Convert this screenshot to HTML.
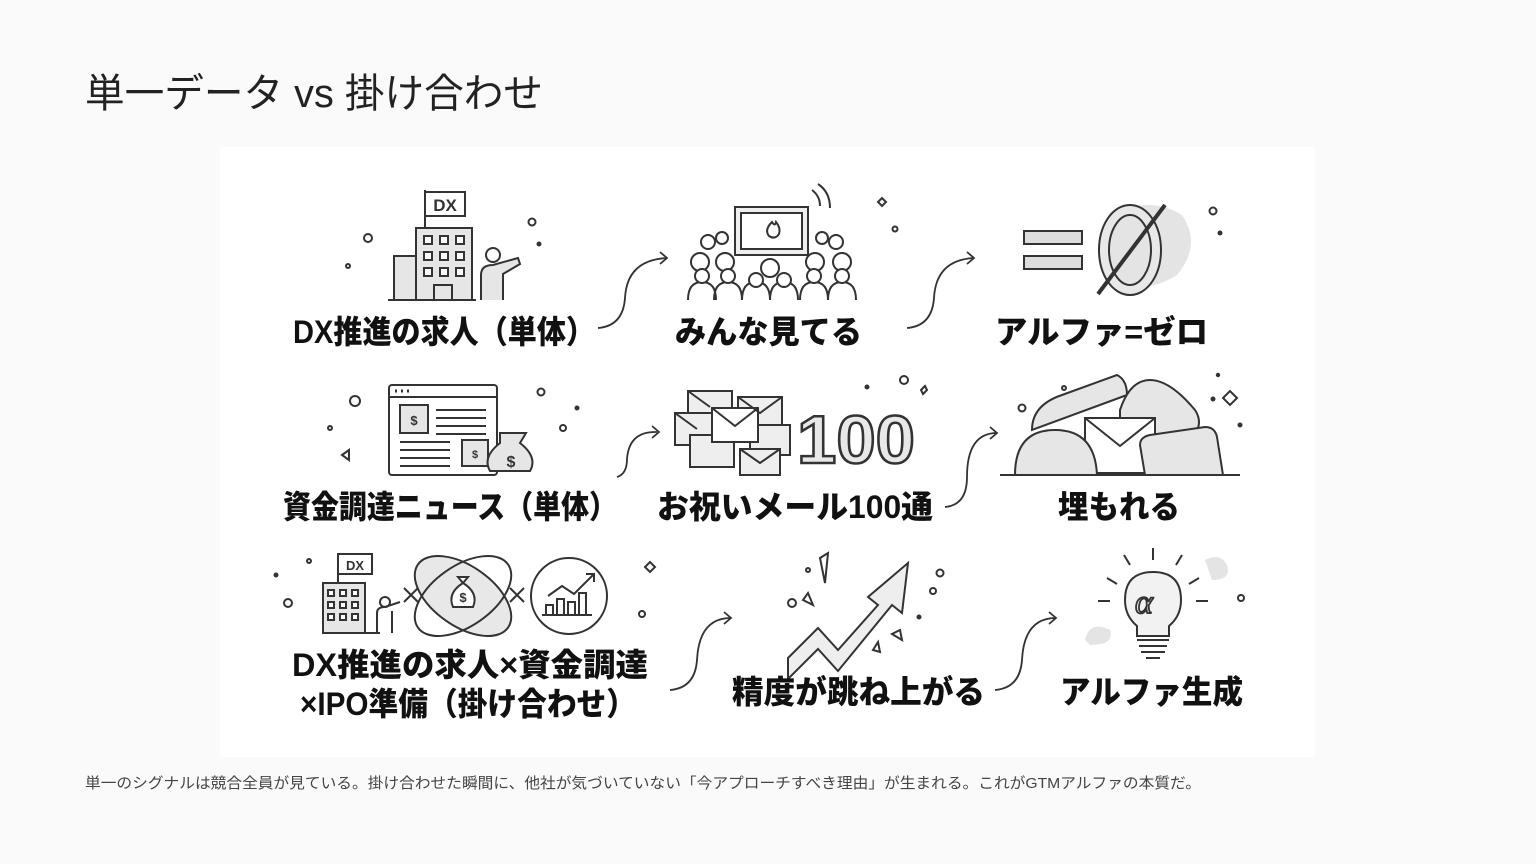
<!DOCTYPE html>
<html><head><meta charset="utf-8"><style>
html,body{margin:0;padding:0;background:#fafafa;}
body{width:1536px;height:864px;position:relative;overflow:hidden;font-family:"Liberation Sans","Noto Sans CJK JP",sans-serif;}
</style></head><body>
<svg width="1536" height="864" viewBox="0 0 1536 864" xmlns="http://www.w3.org/2000/svg" style="position:absolute;left:0;top:0">
<text x="85" y="107" font-family="Liberation Sans,Noto Sans CJK JP,sans-serif" font-size="40" fill="#222" textLength="458" lengthAdjust="spacingAndGlyphs">単一データ vs 掛け合わせ</text>
<rect x="220" y="147" width="1095" height="610" fill="#fff"/>
<g fill="none" stroke="#333" stroke-width="2">
 <rect x="394" y="256" width="22" height="44" fill="#e6e6e6"/>
 <rect x="416" y="228" width="56" height="72" fill="#e6e6e6"/>
 <rect x="425" y="192" width="40" height="24" fill="#fff"/><line x1="425" y1="190" x2="425" y2="228"/>
 <g fill="#fff"><rect x="424" y="236" width="8" height="8"/><rect x="440" y="236" width="8" height="8"/><rect x="456" y="236" width="8" height="8"/><rect x="424" y="252" width="8" height="8"/><rect x="440" y="252" width="8" height="8"/><rect x="456" y="252" width="8" height="8"/><rect x="424" y="268" width="8" height="8"/><rect x="440" y="268" width="8" height="8"/><rect x="456" y="268" width="8" height="8"/></g>
 <rect x="434" y="285" width="18" height="15"/>
 <line x1="388" y1="300" x2="476" y2="300"/>
 <circle cx="493" cy="255" r="7"/><path d="M481 300 V275 Q481 265 493 265 L518 258 L520 264 L503 274 V300" fill="#e6e6e6"/>
 <circle cx="368" cy="238" r="4"/><circle cx="532" cy="222" r="3.5"/><circle cx="348" cy="266" r="2"/><circle cx="539" cy="244" r="1.5" fill="#333"/>
 <rect x="735" y="207" width="73" height="48" fill="#eee"/><rect x="741" y="213" width="61" height="36" fill="#fff"/>
 <path d="M772 222 q-8 8 -3 14 q6 4 10 -2 q2 -6 -3 -12 q-1 5 -4 0z"/>
 <path d="M812 190 q8 6 8 16 M818 184 q12 8 12 24"/>
 <g fill="#fff">
 <circle cx="708" cy="242" r="7"/><circle cx="722" cy="238" r="6"/><circle cx="822" cy="238" r="6"/><circle cx="836" cy="242" r="7"/>
 <circle cx="700" cy="262" r="9"/><circle cx="725" cy="262" r="9"/><circle cx="770" cy="268" r="9"/><circle cx="815" cy="262" r="9"/><circle cx="842" cy="262" r="9"/>
 <path d="M688 300 q0-18 14-18 q14 0 14 18 M714 300 q0-18 14-18 q14 0 14 18 M742 300 q0-18 14-18 q14 0 14 18 M770 300 q0-18 14-18 q14 0 14 18 M800 300 q0-18 14-18 q14 0 14 18 M828 300 q0-18 14-18 q14 0 14 18"/>
 <circle cx="702" cy="276" r="7"/><circle cx="728" cy="276" r="7"/><circle cx="756" cy="280" r="7"/><circle cx="784" cy="280" r="7"/><circle cx="814" cy="276" r="7"/><circle cx="842" cy="276" r="7"/>
 </g>
 <path d="M878 202 l4 -4 l4 4 l-4 4z"/><circle cx="895" cy="229" r="2.5"/>
 <path d="M1110 215 q40 -20 72 0 q20 30 -5 60 q-40 25 -70 -5z" fill="#e4e4e4" stroke="none"/>
 <rect x="1024" y="231" width="58" height="13" fill="#ddd"/><rect x="1024" y="256" width="58" height="13" fill="#ddd"/>
 <ellipse cx="1130" cy="250" rx="26" ry="40" stroke-width="12" stroke="#333"/>
 <ellipse cx="1130" cy="250" rx="26" ry="40" stroke-width="8" stroke="#e8e8e8"/>
 <line x1="1098" y1="294" x2="1165" y2="205" stroke-width="4"/>
 <circle cx="1213" cy="211" r="3.5"/><circle cx="1220" cy="233" r="1.5" fill="#333"/>
 <rect x="389" y="385" width="108" height="90" rx="3" fill="#fff"/><line x1="389" y1="397" x2="497" y2="397"/>
 <path d="M395 391 h2 M401 391 h2 M407 391 h2" stroke-width="3"/>
 <rect x="400" y="405" width="28" height="28" fill="#e6e6e6"/>
 <path d="M436 410 h50 M436 418 h50 M436 426 h50 M400 442 h50 M400 450 h50 M400 458 h50 M400 466 h50 M436 434 h50"/>
 <rect x="462" y="440" width="26" height="26" fill="#e6e6e6"/>
 <path d="M500 443 q-18 14 -10 28 h40 q8 -14 -10 -28 l6 -10 h-26z" fill="#e6e6e6"/>
 <circle cx="355" cy="401" r="5"/><circle cx="541" cy="392" r="3.5"/><circle cx="330" cy="428" r="2"/><circle cx="563" cy="428" r="3"/><path d="M342 455 l7 -5 v10z"/><circle cx="577" cy="408" r="1.5" fill="#333"/>
 <g fill="#eee">
 <rect x="688" y="391" width="44" height="32"/><rect x="675" y="413" width="44" height="32"/><rect x="738" y="397" width="44" height="32"/><rect x="690" y="435" width="44" height="32"/><rect x="750" y="425" width="40" height="30"/><rect x="740" y="449" width="40" height="26"/><rect x="712" y="408" width="46" height="34" fill="#fff"/>
 </g>
 <path d="M712 408 l23 18 l23 -18 M688 391 l22 16 M675 413 l22 16 M738 397 l22 16 l22-16 M740 449 l20 14 l20 -14"/>
 <text x="797" y="463" font-family="Liberation Sans,sans-serif" font-weight="bold" font-size="68" fill="#e8e8e8" stroke="#333" stroke-width="2.5" textLength="118" lengthAdjust="spacingAndGlyphs">100</text>
 <circle cx="904" cy="380" r="4"/><circle cx="867" cy="387" r="1.5" fill="#333"/><path d="M921 390 l4 -4 l2 4 l-4 4z"/>
 <path d="M1032 430 q0 -25 30 -35 l55 -20 q10 5 10 20 z" fill="#e6e6e6"/>
 <path d="M1120 410 q10 -30 30 -30 q20 0 45 30 q10 15 -5 30 h-70z" fill="#e6e6e6"/>
 <rect x="1085" y="418" width="70" height="55" fill="#fff"/><path d="M1085 418 l35 28 l35 -28"/>
 <path d="M1015 475 q0 -45 40 -45 q40 0 42 45z" fill="#e6e6e6"/>
 <path d="M1145 475 l-5 -30 q0 -8 10 -10 l55 -8 q10 0 12 10 l6 38z" fill="#e6e6e6"/>
 <line x1="1000" y1="475" x2="1240" y2="475"/>
 <circle cx="1022" cy="408" r="3.5"/><circle cx="1064" cy="388" r="2"/><path d="M1223 398 l7 -7 l7 7 l-7 7z"/><circle cx="1213" cy="399" r="1.5" fill="#333"/><circle cx="1240" cy="425" r="1.5" fill="#333"/><circle cx="1218" cy="375" r="1.2" fill="#333"/>
 <rect x="323" y="583" width="42" height="50" fill="#e6e6e6"/><rect x="338" y="554" width="34" height="20" fill="#fff"/><line x1="338" y1="554" x2="338" y2="583"/>
 <g fill="#fff"><rect x="328" y="590" width="6" height="6"/><rect x="340" y="590" width="6" height="6"/><rect x="352" y="590" width="6" height="6"/><rect x="328" y="602" width="6" height="6"/><rect x="340" y="602" width="6" height="6"/><rect x="352" y="602" width="6" height="6"/><rect x="328" y="614" width="6" height="6"/><rect x="340" y="614" width="6" height="6"/><rect x="352" y="614" width="6" height="6"/></g>
 <line x1="322" y1="633" x2="380" y2="633"/>
 <circle cx="385" cy="602" r="5"/><path d="M377 633 v-20 q0 -6 8 -6 l15 -5 M392 633 v-22"/>
 <path d="M404 588 l14 14 M418 588 l-14 14 M510 588 l14 14 M524 588 l-14 14"/>
 <ellipse cx="463" cy="596" rx="55" ry="30" transform="rotate(35 463 596)" fill="#e8e8e8"/>
 <ellipse cx="463" cy="596" rx="55" ry="30" transform="rotate(-35 463 596)"/>
 <path d="M463 583 q-16 10 -10 24 h20 q6 -14 -10 -24 l5 -6 h-10z" fill="#fff"/>
 <circle cx="569" cy="596" r="38"/>
 <path d="M546 615 v-10 h7 v10 M557 615 v-16 h7 v16 M568 615 v-13 h7 v13 M579 615 v-22 h7 v22 M542 615 h50 M548 596 l14 -10 l12 8 l20 -20 M586 574 h8 v8"/>
 <circle cx="288" cy="603" r="4"/><circle cx="309" cy="561" r="2"/><circle cx="276" cy="575" r="1.5" fill="#333"/><path d="M645 567 l5 -5 l5 5 l-5 5z"/><circle cx="642" cy="614" r="3"/>
 <path d="M788 658 l30 -30 l20 22 l40 -45 l-10 -8 l40 -34 l-6 50 l-10 -8 l-54 66 l-20 -22 l-30 30z" fill="#eee"/>
 <path d="M820 558 l8 -5 l-3 30z M803 600 l10 5 l-5 -12z M892 634 l8 -4 l2 10z M873 650 l5 -8 l2 10z"/>
 <circle cx="792" cy="603" r="4"/><circle cx="808" cy="570" r="2"/><circle cx="940" cy="573" r="3.5"/><circle cx="933" cy="591" r="3"/><circle cx="919" cy="617" r="1.5" fill="#333"/>
 <path d="M1205 560 q15 -8 22 5 q5 15 -15 15 z M1085 640 q5 -20 25 -10 q5 15 -20 15z" fill="#e4e4e4" stroke="none"/>
 <path d="M1153 572 q-28 0 -28 28 q0 16 12 26 v10 h32 v-10 q12 -10 12 -26 q0 -28 -28 -28z" fill="#f2f2f2"/>
 <path d="M1137 640 h32 M1139 646 h28 M1141 652 h24 M1146 658 h14"/>
 <text x="1135" y="613" font-family="Liberation Serif,serif" font-style="italic" font-size="34" fill="#e8e8e8" stroke="#333" stroke-width="1.8">α</text>
 <path d="M1153 548 v12 M1124 555 l6 10 M1182 555 l-6 10 M1107 578 l10 6 M1199 578 l-10 6 M1098 601 h12 M1196 601 h12"/>
 <circle cx="1241" cy="598" r="3"/>
 <g stroke="#333" stroke-width="1.8">
 <path d="M598 328 q25 -2 27 -30 q2 -38 42 -40"/><path d="M660 252 l7 6 l-7 6"/>
 <path d="M907 328 q25 -2 27 -30 q2 -38 40 -40"/><path d="M967 252 l7 6 l-7 6"/>
 <path d="M617 477 q10 -3 10 -18 q2 -28 30 -27"/><path d="M652 426 l7 6 l-7 6"/>
 <path d="M945 507 q22 -2 22 -30 q0 -44 30 -44"/><path d="M990 427 l7 6 l-7 6"/>
 <path d="M670 690 q25 -2 27 -30 q2 -42 34 -42"/><path d="M724 612 l7 6 l-7 6"/>
 <path d="M995 690 q25 -2 27 -30 q2 -42 34 -42"/><path d="M1049 612 l7 6 l-7 6"/>
 </g>
</g>
<g font-family="Liberation Sans,sans-serif" font-weight="bold" fill="#333">
 <text x="445" y="211" font-size="17" text-anchor="middle">DX</text>
 <text x="355" y="570" font-size="13" text-anchor="middle">DX</text>
 <text x="511" y="467" font-size="16" text-anchor="middle">$</text>
 <text x="463" y="602" font-size="13" text-anchor="middle">$</text>
 <text x="414" y="425" font-size="13" text-anchor="middle">$</text>
 <text x="475" y="458" font-size="11" text-anchor="middle">$</text>
</g>
<g font-family="Liberation Sans,Noto Sans CJK JP,sans-serif" font-weight="900" font-size="32" fill="#111">
 <text x="293" y="343" textLength="302" lengthAdjust="spacingAndGlyphs">DX推進の求人（単体）</text>
 <text x="675" y="343" textLength="187" lengthAdjust="spacingAndGlyphs">みんな見てる</text>
 <text x="995" y="343" textLength="213" lengthAdjust="spacingAndGlyphs">アルファ=ゼロ</text>
 <text x="283" y="518" textLength="334" lengthAdjust="spacingAndGlyphs">資金調達ニュース（単体）</text>
 <text x="657" y="518" textLength="276" lengthAdjust="spacingAndGlyphs">お祝いメール100通</text>
 <text x="1058" y="518" textLength="122" lengthAdjust="spacingAndGlyphs">埋もれる</text>
 <text x="292" y="676" textLength="356" lengthAdjust="spacingAndGlyphs">DX推進の求人×資金調達</text>
 <text x="300" y="715" textLength="336" lengthAdjust="spacingAndGlyphs">×IPO準備（掛け合わせ）</text>
 <text x="732" y="703" textLength="253" lengthAdjust="spacingAndGlyphs">精度が跳ね上がる</text>
 <text x="1060" y="703" textLength="183" lengthAdjust="spacingAndGlyphs">アルファ生成</text>
</g>
<text x="85" y="788" font-family="Liberation Sans,Noto Sans CJK JP,sans-serif" font-size="15" fill="#444" textLength="1116" lengthAdjust="spacingAndGlyphs">単一のシグナルは競合全員が見ている。掛け合わせた瞬間に、他社が気づいていない「今アプローチすべき理由」が生まれる。これがGTMアルファの本質だ。</text>
</svg>
</body></html>
